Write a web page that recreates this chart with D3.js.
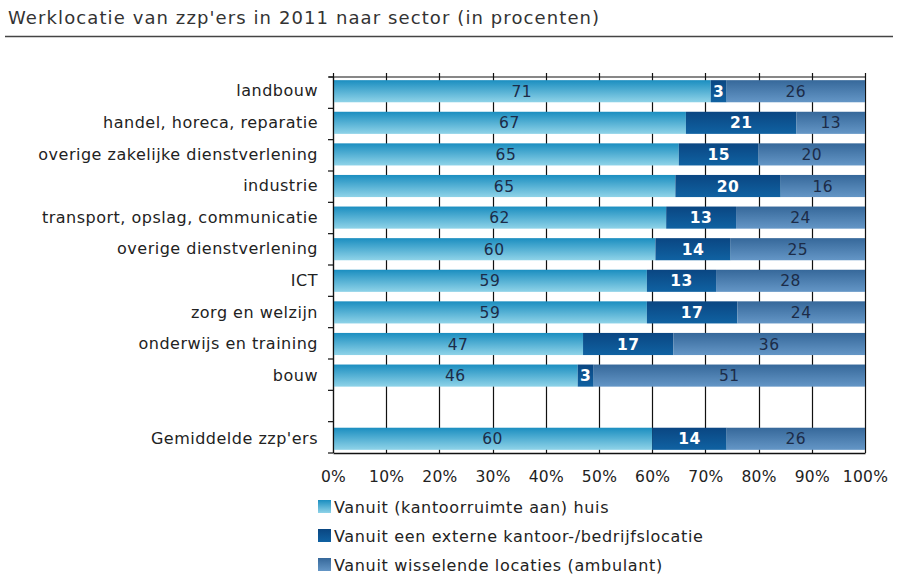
<!DOCTYPE html>
<html>
<head>
<meta charset="utf-8">
<script src="https://cdn.jsdelivr.net/npm/d3@7"></script>
<style>
  body { margin: 0; background: #fff; }
  text { font-family: "DejaVu Sans", Verdana, sans-serif; }
</style>
</head>
<body>
<div id="chart"></div>
<script>
// categories (index 10 is the blank spacer row)
var categories = ["landbouw", "handel, horeca, reparatie", "overige zakelijke dienstverlening",
  "industrie", "transport, opslag, communicatie", "overige dienstverlening", "ICT",
  "zorg en welzijn", "onderwijs en training", "bouw", "", "Gemiddelde zzp'ers"];
var huis     = [71, 67, 65, 65, 62, 60, 59, 59, 47, 46, null, 60];
var extern   = [3, 21, 15, 20, 13, 14, 13, 17, 17, 3, null, 14];
var ambulant = [26, 13, 20, 16, 24, 25, 28, 24, 36, 51, null, 26];
var seriesNames = ["Vanuit (kantoorruimte aan) huis", "Vanuit een externe kantoor-/bedrijfslocatie",
  "Vanuit wisselende locaties (ambulant)"];
var xTicks = [0, 0.1, 0.2, 0.3, 0.4, 0.5, 0.6, 0.7, 0.8, 0.9, 1];

(function() {
  var width = 900, height = 580,
      pLeft = 333, pRight = 865, pTop = 77, pBottom = 453;

  var svg = d3.select('#chart').append('svg')
    .attr('width', width)
    .attr('height', height);

  // gradients per series
  var grads = [
    { id: 'g0', c: ['#1b8ec0', '#8fd3e8'], text: '#1c2c48' },
    { id: 'g1', c: ['#0a4682', '#1062a2'], text: '#ffffff' },
    { id: 'g2', c: ['#36689a', '#6496c6'], text: '#1c2c48' }
  ];
  var defs = svg.append('defs');
  grads.forEach(function(g) {
    var lg = defs.append('linearGradient').attr('id', g.id)
      .attr('x1', 0).attr('y1', 0).attr('x2', 0).attr('y2', 1);
    lg.append('stop').attr('offset', '0%').attr('stop-color', g.c[0]);
    lg.append('stop').attr('offset', '100%').attr('stop-color', g.c[1]);
  });

  // title
  svg.append('text')
    .attr('x', 8).attr('y', 24)
    .attr('font-size', 18)
    .attr('letter-spacing', 1.1)
    .attr('fill', '#333')
    .text("Werklocatie van zzp'ers in 2011 naar sector (in procenten)");
  svg.append('line')
    .attr('x1', 5).attr('x2', 893).attr('y1', 36.5).attr('y2', 36.5)
    .attr('stroke', '#444').attr('stroke-width', 1.5);

  // scales
  var x = d3.scaleLinear().domain([0, 1]).range([pLeft, pRight]);
  var y = d3.scaleBand().domain(d3.range(categories.length)).range([pTop, pBottom])
    .paddingInner(0.3).paddingOuter(0.1);

  // table for stack
  var table = categories.map(function(c, i) {
    return { i: i, huis: huis[i] || 0, extern: extern[i] || 0, ambulant: ambulant[i] || 0 };
  });
  var keys = ['huis', 'extern', 'ambulant'];
  var stack = d3.stack().keys(keys).offset(d3.stackOffsetExpand);
  var series = stack(table);

  // vertical gridlines
  svg.append('g').selectAll('line')
    .data(xTicks)
    .enter().append('line')
    .attr('x1', function(d) { return Math.round(x(d)) + 0.5; })
    .attr('x2', function(d) { return Math.round(x(d)) + 0.5; })
    .attr('y1', pTop - 4).attr('y2', pBottom)
    .attr('stroke', '#111').attr('stroke-width', 1.2);

  // top line
  svg.append('line')
    .attr('x1', pLeft - 4).attr('x2', pRight + 0.5).attr('y1', pTop).attr('y2', pTop)
    .attr('stroke', '#111').attr('stroke-width', 1.2);

  // bars
  var layers = svg.append('g').selectAll('g')
    .data(series)
    .enter().append('g')
    .attr('fill', function(d, k) { return 'url(#' + grads[k].id + ')'; });

  layers.selectAll('rect')
    .data(function(d) { return d.filter(function(p) { return huis[p.data.i] != null; }); })
    .enter().append('rect')
    .attr('x', function(p) { return x(p[0]); })
    .attr('width', function(p) { return x(p[1]) - x(p[0]); })
    .attr('y', function(p) { return y(p.data.i); })
    .attr('height', y.bandwidth());

  // value labels
  var vals = [huis, extern, ambulant];
  layers.each(function(s, k) {
    d3.select(this).selectAll('text')
      .data(s.filter(function(p) { return huis[p.data.i] != null; }))
      .enter().append('text')
      .attr('x', function(p) { return (x(p[0]) + x(p[1])) / 2; })
      .attr('y', function(p) { return y(p.data.i) + y.bandwidth() / 2; })
      .attr('dy', '0.36em')
      .attr('text-anchor', 'middle')
      .attr('font-size', 15.5)
      .attr('letter-spacing', 0.5)
      .attr('font-weight', k === 1 ? 'bold' : 'normal')
      .attr('fill', grads[k].text)
      .text(function(p) { return vals[k][p.data.i]; });
  });

  // left axis: labels
  var yAxis = svg.append('g')
    .attr('transform', 'translate(' + pLeft + ',0)')
    .call(d3.axisLeft(y).tickSize(0).tickPadding(15)
      .tickFormat(function(i) { return categories[i]; }));
  yAxis.select('.domain').remove();
  yAxis.selectAll('text').attr('font-size', 16).attr('fill', '#222')
    .attr('letter-spacing', 0.5)
    .attr('font-family', '"DejaVu Sans", Verdana, sans-serif');

  // left axis line and boundary ticks
  var bounds = d3.range(categories.length + 1).map(function(k) {
    return pTop + k * (pBottom - pTop) / categories.length;
  });
  svg.append('line')
    .attr('x1', pLeft + 0.5).attr('x2', pLeft + 0.5).attr('y1', pTop).attr('y2', pBottom)
    .attr('stroke', '#111').attr('stroke-width', 1.2);
  svg.append('g').selectAll('line')
    .data(bounds)
    .enter().append('line')
    .attr('x1', pLeft - 5).attr('x2', pLeft)
    .attr('y1', function(d) { return d; }).attr('y2', function(d) { return d; })
    .attr('stroke', '#111').attr('stroke-width', 1.2);

  // bottom axis
  var xAxis = svg.append('g')
    .attr('transform', 'translate(0,' + pBottom + ')')
    .call(d3.axisBottom(x).tickValues(xTicks).tickSize(0).tickPadding(18)
      .tickFormat(d3.format('.0%')));
  xAxis.select('.domain').attr('stroke', '#111').attr('stroke-width', 1.4);
  xAxis.selectAll('text').attr('font-size', 15.5).attr('fill', '#222')
    .attr('letter-spacing', 0.3)
    .attr('font-family', '"DejaVu Sans", Verdana, sans-serif');

  // legend
  var legend = svg.append('g').selectAll('g')
    .data(seriesNames)
    .enter().append('g')
    .attr('transform', function(d, k) { return 'translate(318,' + (500 + k * 29) + ')'; });
  legend.append('rect')
    .attr('width', 13).attr('height', 13)
    .attr('fill', function(d, k) { return 'url(#' + grads[k].id + ')'; });
  legend.append('text')
    .attr('x', 16).attr('y', 7).attr('dy', '0.36em')
    .attr('font-size', 16).attr('fill', '#222')
    .attr('letter-spacing', 0.65)
    .text(function(d) { return d; });
})();
</script>
</body>
</html>
